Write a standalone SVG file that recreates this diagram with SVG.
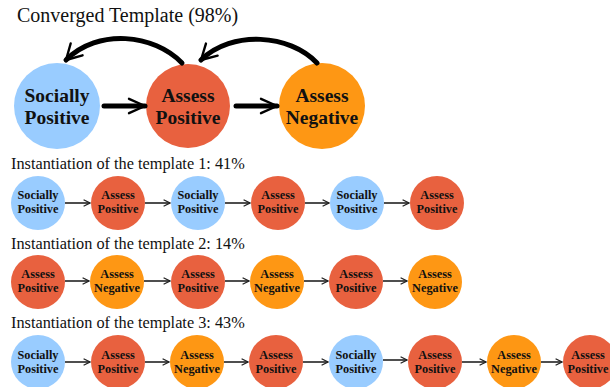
<svg xmlns="http://www.w3.org/2000/svg" width="610" height="387" viewBox="0 0 610 387">
<defs>
<style>
.sp{fill:#99CCFF}.ap{fill:#E8613F}.an{fill:#FE9714}
.big{font-family:"Liberation Serif","Times New Roman",serif;font-weight:bold;font-size:19.5px;text-anchor:middle;fill:#111}
.sm{font-family:"Liberation Serif","Times New Roman",serif;font-weight:bold;font-size:12.3px;text-anchor:middle;fill:#111}
.ttl{font-family:"Liberation Serif","Times New Roman",serif;font-size:20px;fill:#111}
.rt{font-family:"Liberation Serif","Times New Roman",serif;font-size:16.3px;fill:#111}
.bl{fill:none;stroke:#000;stroke-width:5;stroke-linecap:round;stroke-linejoin:round}
.tl{fill:none;stroke:#222;stroke-width:1.6}
</style>
<marker id="bh" viewBox="0 0 10 10" refX="9" refY="5" markerWidth="4" markerHeight="4" orient="auto" markerUnits="strokeWidth">
<path d="M1,1.4 L9,5 L1,8.6" fill="none" stroke="#000" stroke-width="1.2" stroke-linecap="round" stroke-linejoin="round"/>
</marker>
<marker id="ch" viewBox="0 0 10 10" refX="9" refY="5" markerWidth="4" markerHeight="4" orient="auto" markerUnits="strokeWidth">
<path d="M1.5,0.8 L9,5 L1.5,9.2" fill="none" stroke="#000" stroke-width="1.2" stroke-linecap="round" stroke-linejoin="round"/>
</marker>
<marker id="sh" viewBox="0 0 10 10" refX="9" refY="5" markerWidth="5" markerHeight="5" orient="auto" markerUnits="strokeWidth">
<path d="M1,1 L9,5 L1,9" fill="none" stroke="#222" stroke-width="1.6" stroke-linejoin="miter"/>
</marker>
</defs>
<rect width="610" height="387" fill="#fff"/>
<text class="ttl" x="17" y="22">Converged Template (98%)</text>
<g id="t-sp"><circle class="sp" cx="57" cy="106" r="43"/><text class="big" x="57" y="102">Socially</text><text class="big" x="57" y="124">Positive</text></g>
<g id="t-ap"><circle class="ap" cx="188" cy="106" r="42"/><text class="big" x="188" y="102">Assess</text><text class="big" x="188" y="124">Positive</text></g>
<g id="t-an"><circle class="an" cx="322" cy="106" r="43"/><text class="big" x="322" y="102">Assess</text><text class="big" x="322" y="124">Negative</text></g>
<g id="t-conn">
<path class="bl" d="M104,106 L145,106" marker-end="url(#bh)"/>
<path class="bl" d="M236,106 L277,106" marker-end="url(#bh)"/>
<path class="bl" d="M182,63 C154,34 98,28 66,60" marker-end="url(#ch)"/>
<path class="bl" d="M317,63 C290,34 232,30 201,60" marker-end="url(#ch)"/>
</g>

<text class="rt" x="11" y="169">Instantiation of the template 1: 41%</text>
<g id="r1n1"><circle class="sp" cx="38" cy="203" r="27"/><text class="sm" x="38" y="199">Socially</text><text class="sm" x="38" y="213">Positive</text></g>
<g id="r1n2"><circle class="ap" cx="118" cy="203" r="27"/><text class="sm" x="118" y="199">Assess</text><text class="sm" x="118" y="213">Positive</text></g>
<g id="r1n3"><circle class="sp" cx="198" cy="203" r="27"/><text class="sm" x="198" y="199">Socially</text><text class="sm" x="198" y="213">Positive</text></g>
<g id="r1n4"><circle class="ap" cx="278" cy="203" r="27"/><text class="sm" x="278" y="199">Assess</text><text class="sm" x="278" y="213">Positive</text></g>
<g id="r1n5"><circle class="sp" cx="357" cy="203" r="27"/><text class="sm" x="357" y="199">Socially</text><text class="sm" x="357" y="213">Positive</text></g>
<g id="r1n6"><circle class="ap" cx="437" cy="203" r="27"/><text class="sm" x="437" y="199">Assess</text><text class="sm" x="437" y="213">Positive</text></g>
<g id="r1-conn">
<path class="tl" d="M65,203 L90,203" marker-end="url(#sh)"/>
<path class="tl" d="M145,203 L170,203" marker-end="url(#sh)"/>
<path class="tl" d="M225,203 L250,203" marker-end="url(#sh)"/>
<path class="tl" d="M305,203 L329,203" marker-end="url(#sh)"/>
<path class="tl" d="M384,203 L409,203" marker-end="url(#sh)"/>
</g>

<text class="rt" x="11" y="249">Instantiation of the template 2: 14%</text>
<g id="r2n1"><circle class="ap" cx="38" cy="282" r="27"/><text class="sm" x="38" y="278">Assess</text><text class="sm" x="38" y="292">Positive</text></g>
<g id="r2n2"><circle class="an" cx="117" cy="282" r="27"/><text class="sm" x="117" y="278">Assess</text><text class="sm" x="117" y="292">Negative</text></g>
<g id="r2n3"><circle class="ap" cx="198" cy="282" r="27"/><text class="sm" x="198" y="278">Assess</text><text class="sm" x="198" y="292">Positive</text></g>
<g id="r2n4"><circle class="an" cx="277" cy="282" r="27"/><text class="sm" x="277" y="278">Assess</text><text class="sm" x="277" y="292">Negative</text></g>
<g id="r2n5"><circle class="ap" cx="356" cy="282" r="27"/><text class="sm" x="356" y="278">Assess</text><text class="sm" x="356" y="292">Positive</text></g>
<g id="r2n6"><circle class="an" cx="435" cy="282" r="27"/><text class="sm" x="435" y="278">Assess</text><text class="sm" x="435" y="292">Negative</text></g>
<g id="r2-conn">
<path class="tl" d="M65,281 L89,281" marker-end="url(#sh)"/>
<path class="tl" d="M144,281 L170,281" marker-end="url(#sh)"/>
<path class="tl" d="M225,281 L249,281" marker-end="url(#sh)"/>
<path class="tl" d="M304,281 L328,281" marker-end="url(#sh)"/>
<path class="tl" d="M383,281 L407,281" marker-end="url(#sh)"/>
</g>

<text class="rt" x="11" y="328">Instantiation of the template 3: 43%</text>
<g id="r3n1"><circle class="sp" cx="38" cy="362" r="27"/><text class="sm" x="38" y="359">Socially</text><text class="sm" x="38" y="373">Positive</text></g>
<g id="r3n2"><circle class="ap" cx="118" cy="362" r="27"/><text class="sm" x="118" y="359">Assess</text><text class="sm" x="118" y="373">Positive</text></g>
<g id="r3n3"><circle class="an" cx="197" cy="362" r="27"/><text class="sm" x="197" y="359">Assess</text><text class="sm" x="197" y="373">Negative</text></g>
<g id="r3n4"><circle class="ap" cx="276" cy="362" r="27"/><text class="sm" x="276" y="359">Assess</text><text class="sm" x="276" y="373">Positive</text></g>
<g id="r3n5"><circle class="sp" cx="356" cy="362" r="27"/><text class="sm" x="356" y="359">Socially</text><text class="sm" x="356" y="373">Positive</text></g>
<g id="r3n6"><circle class="ap" cx="435" cy="362" r="27"/><text class="sm" x="435" y="359">Assess</text><text class="sm" x="435" y="373">Positive</text></g>
<g id="r3n7"><circle class="an" cx="514" cy="362" r="27"/><text class="sm" x="514" y="359">Assess</text><text class="sm" x="514" y="373">Negative</text></g>
<g id="r3n8"><circle class="ap" cx="590" cy="362" r="27"/><text class="sm" x="588" y="359">Assess</text><text class="sm" x="588" y="373">Positive</text></g>
<g id="r3-conn">
<path class="tl" d="M65,362 L90,362" marker-end="url(#sh)"/>
<path class="tl" d="M145,362 L169,362" marker-end="url(#sh)"/>
<path class="tl" d="M224,362 L248,362" marker-end="url(#sh)"/>
<path class="tl" d="M303,362 L328,362" marker-end="url(#sh)"/>
<path class="tl" d="M383,360 L407,360" marker-end="url(#sh)"/>
<path class="tl" d="M462,362 L486,362" marker-end="url(#sh)"/>
<path class="tl" d="M541,362 L562,362" marker-end="url(#sh)"/>
</g>
</svg>
